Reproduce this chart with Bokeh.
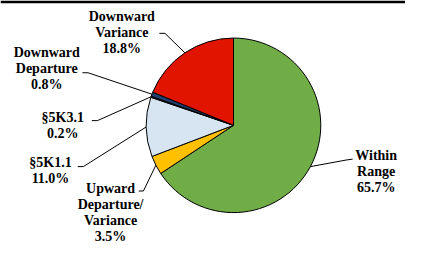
import math
from bokeh.plotting import figure
from bokeh.models import ColumnDataSource, BoxAnnotation
from bokeh.core.properties import value
from bokeh.embed import file_html
from bokeh.resources import INLINE

# ---- data (clockwise from 12 o'clock) ----
categories = ["Within Range", "Upward Departure/Variance", "§5K1.1", "§5K3.1",
              "Downward Departure", "Downward Variance"]
shares = [65.7, 3.5, 11.0, 0.2, 0.8, 18.8]
label_lines = [["Within", "Range"], ["Upward", "Departure/", "Variance"],
               ["§5K1.1"], ["§5K3.1"], ["Downward", "Departure"],
               ["Downward", "Variance"]]
colors = ["#70AD47", "#FFC000", "#D6E5F1", "#7F7F7F", "#1F3F6F", "#E11400"]

# ---- layout (reference pixel space, y measured downward) ----
W, H = 405, 244
REF_W, REF_H = 421, 260
s = H / REF_H
xw = W / s
x0 = (REF_W - xw) / 2
cx, cy_ref, R = 243, 133, 93
line_gap = 17
FONT = value("Liberation Serif")

# label block centres (x, y of first line) and leader anchors (text end, elbow)
label_pos = [(395, 165), (112, 200), (48, 173), (61, 125), (44, 55), (124, 17)]
anchor = [((370, 169), (363, 170)), ((142, 203), (147, 203)),
          ((77, 177), (83, 177)), ((92, 128), (98, 128)),
          ((82, 77), (88, 77)), ((164, 35), (170, 35))]

def Y(y):
    return REF_H - y

p = figure(width=W, height=H, x_range=(x0, x0 + xw), y_range=(0, REF_H),
           output_backend="svg", toolbar_location=None, min_border=0)
p.axis.visible = False
p.grid.visible = False
p.outline_line_color = None
p.background_fill_color = "white"
p.border_fill_color = "white"

total = sum(shares)
starts, ends, mids = [], [], []
cum = 0.0
for v in shares:
    a0 = math.pi / 2 - 2 * math.pi * cum / total
    cum += v
    a1 = math.pi / 2 - 2 * math.pi * cum / total
    starts.append(a0)
    ends.append(a1)
    mids.append((a0 + a1) / 2)

src = ColumnDataSource(dict(x=[cx] * len(shares), y=[Y(cy_ref)] * len(shares),
                            start=starts, end=ends, color=colors, cat=categories))
p.wedge(x="x", y="y", radius=R, start_angle="start", end_angle="end",
        direction="clock", fill_color="color", line_color="black",
        line_width=1, source=src)

# leader lines
xs, ys = [], []
for m, (tend, elbow) in zip(mids, anchor):
    ex = cx + R * math.cos(m)
    ey = Y(cy_ref) + R * math.sin(m)
    xs.append([tend[0], elbow[0], ex])
    ys.append([Y(tend[1]), Y(elbow[1]), ey])
p.multi_line(xs=xs, ys=ys, line_color="black", line_width=1)

# labels
tx, ty, tt = [], [], []
for lines, v, (lx, ly) in zip(label_lines, shares, label_pos):
    allines = lines + [f"{v:.1f}%"]
    for i, t in enumerate(allines):
        tx.append(lx)
        ty.append(Y(ly + i * line_gap))
        tt.append(t)
p.text(x=tx, y=ty, text=tt, text_font=FONT, text_font_style="bold",
       text_font_size="14px", text_align="center", text_baseline="middle",
       text_color="black")

# top rule
p.add_layout(BoxAnnotation(top=REF_H, bottom=REF_H - 3, fill_color="black",
                           fill_alpha=1, line_color=None))

open("out.html", "w").write(file_html(p, INLINE))
